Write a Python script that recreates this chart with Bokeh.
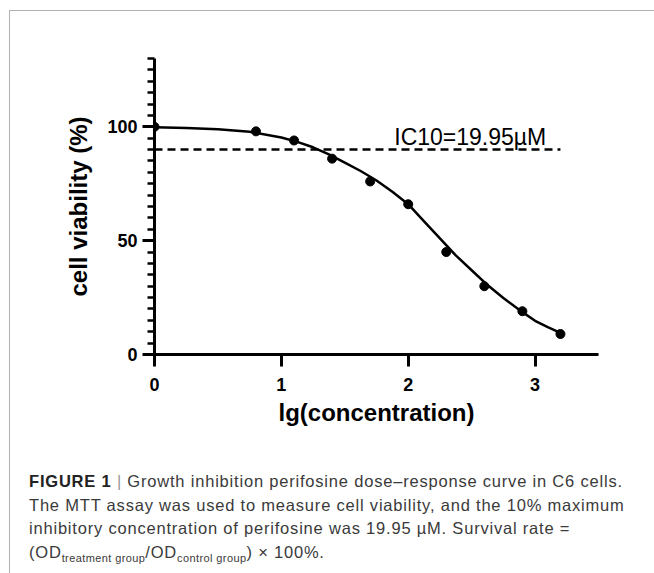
from bokeh.plotting import figure
from bokeh.models import FixedTicker, Label, Div
from bokeh.layouts import column
from bokeh.embed import file_html
from bokeh.resources import INLINE

# ---- data ----
lg_conc = [0.0, 0.8, 1.1, 1.4, 1.7, 2.0, 2.3, 2.6, 2.9, 3.2]
viability = [100.0, 98.0, 94.0, 86.0, 76.0, 66.0, 45.0, 30.0, 19.0, 9.0]

curve_x = [0.0, 0.25, 0.5, 0.75, 1.0, 1.125, 1.25, 1.375, 1.5, 1.625, 1.75, 1.875,
           2.0, 2.125, 2.25, 2.375, 2.5, 2.625, 2.75, 2.875, 3.0, 3.1, 3.2]
curve_y = [99.8, 99.5, 98.9, 97.8, 95.3, 93.4, 91.0, 87.9, 84.3, 80.6, 76.4, 71.5,
           66.0, 58.5, 51.0, 43.5, 37.0, 30.5, 24.8, 19.6, 14.8, 12.0, 9.5]

ic10_level = 90.0
ic10_text = "IC10=19.95µM"

x_ticks = [0, 1, 2, 3]
y_ticks = [0, 50, 100]
y_minor = list(range(0, 131, 5))

FONT = "Liberation Sans"

p = figure(width=637, height=440, x_range=(0, 3.5), y_range=(0, 130),
           output_backend="svg", toolbar_location=None,
           min_border_left=144, min_border_right=49,
           min_border_top=47, min_border_bottom=97)
p.grid.visible = False
p.outline_line_color = None
p.background_fill_color = "white"
p.border_fill_color = "white"

# curve, dashed IC10 line, points
p.line(curve_x, curve_y, line_color="black", line_width=2.5)
p.line([lg_conc[0], lg_conc[-1]], [ic10_level, ic10_level],
       line_color="black", line_width=2.5, line_dash="8 5")
p.scatter(lg_conc, viability, size=9, color="black")

p.add_layout(Label(x=1.89, y=95.6, text=ic10_text, text_font=FONT,
                   text_font_size="23px", text_color="black",
                   text_baseline="alphabetic", text_align="left"))

# axes
p.xaxis.ticker = FixedTicker(ticks=x_ticks)
p.yaxis.ticker = FixedTicker(ticks=y_ticks, minor_ticks=y_minor)
p.xaxis.axis_label = "lg(concentration)"
p.yaxis.axis_label = "cell viability (%)"
for ax in (p.xaxis, p.yaxis):
    ax.axis_line_width = 3
    ax.axis_line_color = "black"
    ax.major_tick_line_width = 3
    ax.major_tick_line_color = "black"
    ax.major_tick_out = 12
    ax.major_tick_in = 0
    ax.minor_tick_line_width = 2.5
    ax.minor_tick_line_color = "black"
    ax.minor_tick_out = 7
    ax.minor_tick_in = 0
    ax.major_label_text_font = FONT
    ax.major_label_text_font_style = "bold"
    ax.major_label_text_font_size = "18px"
    ax.major_label_text_color = "black"
    ax.axis_label_text_font = FONT
    ax.axis_label_text_font_style = "bold"
    ax.axis_label_text_font_size = "24px"
    ax.axis_label_text_color = "black"
p.xaxis.minor_tick_line_color = None
p.xaxis.major_label_standoff = 11
p.yaxis.major_label_standoff = 5
p.xaxis.axis_label_standoff = 5
p.yaxis.axis_label_standoff = 12

caption_html = (
    "<b style='font-weight:bold;color:#222'>FIGURE 1</b> "
    "<span style='color:#999'>|</span> Growth inhibition perifosine dose–response curve in C6 cells.<br>"
    "The MTT assay was used to measure cell viability, and the 10% maximum<br>"
    "inhibitory concentration of perifosine was 19.95 µM. Survival rate =<br>"
    "(OD<sub style='font-size:11px;letter-spacing:0.4px'>treatment group</sub>/OD"
    "<sub style='font-size:11px;letter-spacing:0.4px'>control group</sub>) × 100%."
)
caption = Div(text=caption_html, width=637, height=118,
              styles={"font-family": "Liberation Sans, Arial, sans-serif",
                      "font-size": "16.5px", "line-height": "23.5px",
                      "letter-spacing": "0.8px",
                      "color": "#3a3a3a", "padding-left": "14px",
                      "padding-top": "14px", "white-space": "nowrap"})

layout = column(p, caption, spacing=0,
                styles={"margin-left": "9px", "margin-top": "10px",
                        "border-top": "1px solid #b0b0b0",
                        "border-left": "1px solid #b0b0b0"})

open("out.html", "w").write(file_html(layout, INLINE))
